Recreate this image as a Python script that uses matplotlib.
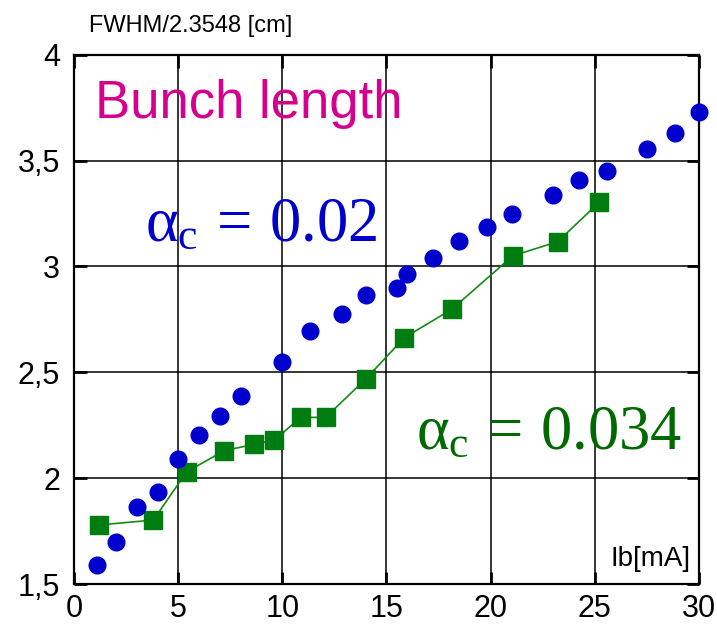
import matplotlib
matplotlib.use("Agg")
import matplotlib.pyplot as plt

plt.rcParams['font.family'] = ['Liberation Sans', 'DejaVu Sans']
plt.rcParams['mathtext.fontset'] = 'custom'
plt.rcParams['mathtext.rm'] = 'Liberation Serif'
plt.rcParams['mathtext.it'] = 'Liberation Serif'

# alpha_c = 0.02 (blue dots)
x_blue = [1.09, 2.02, 3.04, 4.02, 5.01, 6.02, 7.01, 8.0, 10.0, 11.33, 12.85, 14.0,
          15.52, 16.0, 17.25, 18.5, 19.84, 21.0, 23.0, 24.26, 25.59, 27.5, 28.84, 30.0]
y_blue = [1.59, 1.70, 1.865, 1.933, 2.09, 2.204, 2.295, 2.39, 2.547, 2.695, 2.777, 2.865,
          2.90, 2.964, 3.04, 3.122, 3.188, 3.246, 3.336, 3.41, 3.45, 3.556, 3.632, 3.73]

# alpha_c = 0.034 (green squares)
x_green = [1.22, 3.81, 5.41, 7.22, 8.66, 9.62, 10.88, 12.08, 14.02, 15.85, 18.14,
           21.06, 23.22, 25.22]
y_green = [1.779, 1.802, 2.03, 2.13, 2.16, 2.18, 2.287, 2.287, 2.47, 2.663, 2.798,
           3.05, 3.117, 3.304]

x_ticks = [0, 5, 10, 15, 20, 25, 30]
y_ticks = [1.5, 2.0, 2.5, 3.0, 3.5, 4.0]
y_tick_labels = ['1,5', '2', '2,5', '3', '3,5', '4']

fig = plt.figure(figsize=(7.17, 6.24), dpi=100)
ax = fig.add_axes([0.1032, 0.0641, 0.8717, 0.8482])

ax.plot(x_green, y_green, '-', color='#138a13', lw=1.2, zorder=3)
ax.plot(x_green, y_green, 's', color='#007d10', ms=13, lw=0, zorder=4, clip_on=False)
ax.plot(x_blue, y_blue, 'o', color='#0000cc', ms=12, lw=0, zorder=5, clip_on=False)

ax.set_xlim(0, 30)
ax.set_ylim(1.5, 4.0)
ax.set_xticks(x_ticks)
ax.set_yticks(y_ticks)
ax.set_yticklabels(y_tick_labels)
ax.grid(True, color='black', lw=1.1)
ax.set_axisbelow(True)
ax.tick_params(direction='in', length=9, width=2, labelsize=22, pad=10,
               top=True, right=True)
ax.tick_params(axis='x', pad=7)
for s in ax.spines.values():
    s.set_linewidth(1.6)

ax.text(1.0, 3.70, 'Bunch length', color='#d6008f', fontsize=38, va='baseline')
ax.text(3.4, 3.117, r'$\alpha_\mathrm{c}\,=\,0.02$', color='#0000cc', fontsize=45,
        va='baseline')
ax.text(16.4, 2.138, r'$\alpha_\mathrm{c}\,=\,0.034$', color='#006a00', fontsize=45,
        va='baseline')
ax.text(29.6, 1.585, 'Ib[mA]', fontsize=20, ha='right', va='baseline')
fig.text(0.124, 0.949, 'FWHM/2.3548 [cm]', fontsize=17, va='baseline')

fig.savefig('out.png', dpi=100)
